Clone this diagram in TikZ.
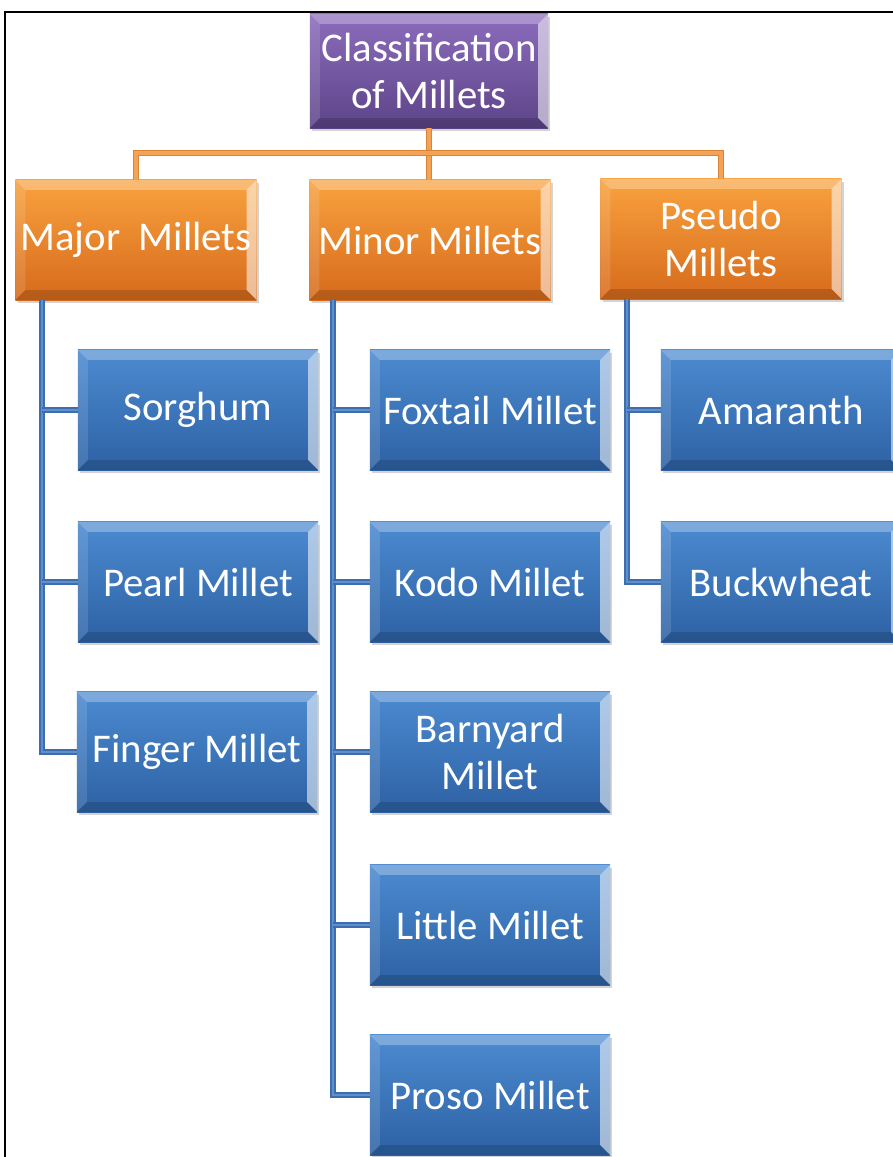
\documentclass[tikz,border=0pt]{standalone}
\usepackage{fontspec}
\setmainfont{Carlito}
\usetikzlibrary{shadows}

\definecolor{purptop}{HTML}{8C6CBC}
\definecolor{purpbot}{HTML}{5D4488}
\definecolor{orgtop}{HTML}{F9A23E}
\definecolor{orgbot}{HTML}{D66A1C}
\definecolor{bluetop}{HTML}{4C8AD0}
\definecolor{bluebot}{HTML}{2D62A4}
\definecolor{orgedge}{HTML}{DC8436}
\definecolor{orglight}{HTML}{F4A256}
\definecolor{blueedge}{HTML}{3D6DAC}
\definecolor{bluelight}{HTML}{5E90CE}

\tikzset{
  bevel/.style={path picture={
    \fill[white,opacity=0.28] (path picture bounding box.north west) -- (path picture bounding box.north east)
      -- ([shift={(-0.25cm,-0.25cm)}]path picture bounding box.north east) -- ([shift={(0.25cm,-0.25cm)}]path picture bounding box.north west) -- cycle;
    \fill[white,opacity=0.55] (path picture bounding box.north east) -- (path picture bounding box.south east)
      -- ([shift={(-0.25cm,0.25cm)}]path picture bounding box.south east) -- ([shift={(-0.25cm,-0.25cm)}]path picture bounding box.north east) -- cycle;
    \fill[white,opacity=0.12] (path picture bounding box.north west) -- (path picture bounding box.south west)
      -- ([shift={(0.25cm,0.25cm)}]path picture bounding box.south west) -- ([shift={(0.25cm,-0.25cm)}]path picture bounding box.north west) -- cycle;
    \fill[black,opacity=0.15] (path picture bounding box.south west) -- (path picture bounding box.south east)
      -- ([shift={(-0.25cm,0.25cm)}]path picture bounding box.south east) -- ([shift={(0.25cm,0.25cm)}]path picture bounding box.south west) -- cycle;
  }}
}

\begin{document}
\begin{tikzpicture}[x=0.025cm, y=-0.025cm,
  box/.style={rectangle, text=white, align=center, inner sep=0pt, font=\fontsize{29}{33.5}\selectfont,
    drop shadow={shadow xshift=0.06cm, shadow yshift=-0.08cm, opacity=0.35}, bevel},
  rootbox/.style={box, minimum width=5.95cm, minimum height=2.85cm, top color=purptop, bottom color=purpbot},
  groupbox/.style={box, minimum width=6.03cm, minimum height=3cm, top color=orgtop, bottom color=orgbot},
  itembox/.style={box, minimum width=6cm, minimum height=3cm, top color=bluetop, bottom color=bluebot},
  orgconn/.style={draw=orgedge, double=orglight, line width=1pt, double distance=2.4pt},
  blueconn/.style={draw=blueedge, double=bluelight, line width=1.1pt, double distance=1.8pt}]

\path[use as bounding box, clip] (0,0) rectangle (893,1157);
\draw[line width=1.5pt] (5,1180) -- (5,12) -- (920,12);

\node[rootbox] (root) at (429,71) {Classification\\of Millets};

\node[groupbox] (major) at (136,240) {Major\ \ Millets};
\node[groupbox] (minor) at (430,240) {Minor Millets};
\node[groupbox] (pseudo) at (721,239) {Pseudo\\Millets};

\node[itembox] (sorghum) at (198,410) {Sorghum};
\node[itembox] (pearl) at (198,582) {Pearl Millet};
\node[itembox] (finger) at (197,752) {Finger Millet};

\node[itembox] (foxtail) at (490,410) {Foxtail Millet};
\node[itembox] (kodo) at (490,582) {Kodo Millet};
\node[itembox] (barnyard) at (490,752) {Barnyard\\Millet};
\node[itembox] (little) at (490,925) {Little Millet};
\node[itembox] (proso) at (490,1095) {Proso Millet};

\node[itembox] (amaranth) at (781,410) {Amaranth};
\node[itembox] (buckwheat) at (781,582) {Buckwheat};

\coordinate (bus) at (0,153);
\draw[orgconn] (root.south) -- (root.south |- minor.north);
\draw[orgconn] (major.north) -- (major.north |- bus) -- (pseudo.north |- bus) -- (pseudo.north);

\coordinate (majtrunk) at (42,300);
\draw[blueconn] (majtrunk) |- (finger.west);
\draw[blueconn] (majtrunk |- sorghum.west) -- (sorghum.west);
\draw[blueconn] (majtrunk |- pearl.west) -- (pearl.west);

\coordinate (mintrunk) at (333,300);
\draw[blueconn] (mintrunk) |- (proso.west);
\draw[blueconn] (mintrunk |- foxtail.west) -- (foxtail.west);
\draw[blueconn] (mintrunk |- kodo.west) -- (kodo.west);
\draw[blueconn] (mintrunk |- barnyard.west) -- (barnyard.west);
\draw[blueconn] (mintrunk |- little.west) -- (little.west);

\coordinate (pstrunk) at (627,299);
\draw[blueconn] (pstrunk) |- (buckwheat.west);
\draw[blueconn] (pstrunk |- amaranth.west) -- (amaranth.west);
\end{tikzpicture}
\end{document}
